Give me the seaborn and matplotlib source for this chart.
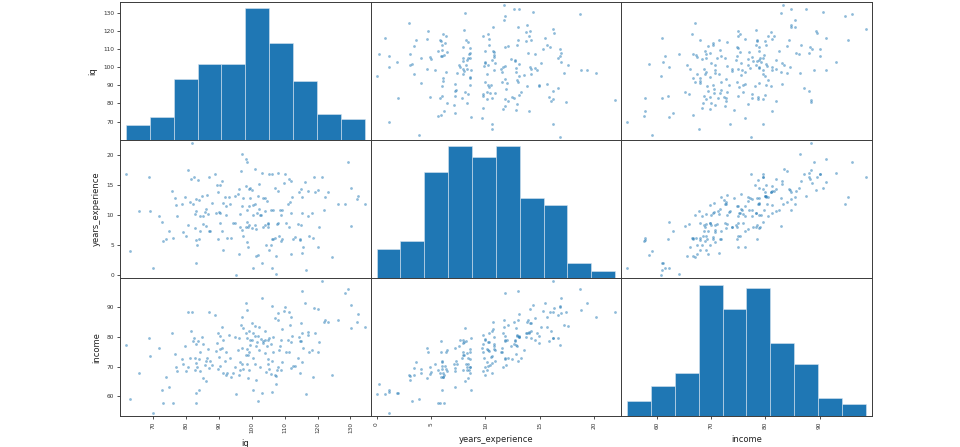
import matplotlib
matplotlib.use("Agg")
import matplotlib.pyplot as plt
import numpy as np
import pandas as pd
import seaborn as sns
from matplotlib.ticker import FixedLocator

iq = [
    61.7, 62.8, 65.8, 68.6, 68.9, 69.8, 71.8, 72.6, 73.0, 73.8,
    74.8, 75.6, 76.0, 76.6, 77.0, 77.3, 78.7, 79.1, 79.7, 80.1,
    80.7, 81.1, 81.9, 81.6, 82.2, 82.5, 83.1, 82.8, 83.3, 82.6,
    83.0, 82.9, 83.6, 84.1, 83.8, 84.3, 83.9, 84.7, 85.1, 85.7,
    86.1, 85.9, 86.9, 86.6, 87.2, 87.0, 88.7, 89.1, 89.8, 90.2,
    90.0, 90.4, 89.7, 91.0, 91.3, 90.8, 91.2, 92.0, 91.8, 92.3,
    92.1, 93.0, 94.2, 93.8, 95.0, 94.8, 95.2, 96.0, 95.8, 96.3,
    96.1, 97.0, 96.8, 97.3, 97.1, 96.9, 97.4, 98.3, 98.5, 98.2,
    98.6, 98.1, 98.4, 98.8, 99.0, 99.3, 99.1, 98.9, 99.2, 100.1,
    100.3, 99.9, 100.2, 101.1, 100.9, 101.3, 101.0, 101.2, 102.1, 101.9,
    102.3, 102.0, 103.1, 102.9, 103.3, 103.0, 104.1, 103.9, 104.3, 105.1,
    104.9, 105.0, 105.2, 106.1, 105.8, 106.3, 106.0, 105.9, 106.2, 107.1,
    106.9, 107.3, 107.2, 108.1, 107.9, 108.3, 108.0, 109.1, 108.9, 109.3,
    109.0, 110.1, 109.8, 111.2, 111.0, 111.4, 112.2, 112.0, 112.4, 111.9,
    113.2, 114.2, 114.0, 115.2, 114.9, 115.4, 115.1, 115.6, 115.3, 114.8,
    116.2, 116.4, 117.2, 117.0, 117.4, 118.2, 119.2, 119.0, 120.2, 120.4,
    120.0, 121.2, 122.2, 122.0, 123.3, 124.3, 126.3, 128.3, 129.3, 130.3,
    130.1, 132.3, 132.1, 134.3,
    80.5, 83.0, 85.0, 86.5, 88.0, 89.5, 90.2, 93.5, 96.5, 98.5,
    99.5, 100.5, 101.5, 102.5, 103.5, 104.0, 104.5, 105.0, 106.5, 107.5,
    108.5, 110.5, 111.5, 112.0, 114.5, 118.5,
]

years_experience = [
    16.8, 3.9, 10.6, 16.2, 10.6, 1.1, 9.7, 8.7, 5.6, 5.9,
    7.2, 14.0, 6.2, 12.8, 11.6, 9.8, 11.8, 7.1, 12.9, 6.5,
    17.4, 12.1, 21.9, 16.0, 11.8, 16.2, 12.6, 7.8, 4.9, 10.1,
    2.0, 5.8, 15.8, 9.8, 12.4, 7.2, 6.0, 13.1, 8.4, 10.4,
    8.1, 10.9, 16.2, 10.1, 7.3, 7.2, 16.7, 10.3, 13.8, 14.9,
    10.5, 10.2, 6.0, 15.6, 12.0, 7.2, 4.1, 11.5, 13.0, 6.1,
    10.0, 12.9, 8.6, 6.1, 13.1, 8.6, 0.0, 14.2, 13.5, 7.9,
    3.4, 20.1, 17.2, 12.8, 11.5, 7.4, 6.4, 19.3, 18.8, 14.7,
    10.8, 8.0, 5.4, 4.6, 14.2, 14.5, 11.4, 7.9, 8.3, 14.1,
    11.6, 7.7, 1.1, 17.6, 11.8, 7.6, 8.2, 3.1, 15.1, 13.1,
    10.9, 3.3, 16.9, 10.0, 12.7, 1.9, 12.7, 8.3, 5.0, 16.7,
    7.9, 8.6, 4.1, 16.8, 10.8, 5.9, 6.0, 4.9, 1.1, 14.5,
    6.2, 3.1, 0.2, 16.9, 13.9, 6.5, 8.6, 10.7, 10.0, 6.0,
    5.6, 16.8, 15.3, 15.9, 11.8, 7.9, 12.9, 10.3, 6.0, 3.4,
    6.3, 13.7, 8.4, 13.0, 14.2, 10.3, 8.2, 4.6, 3.6, 5.8,
    15.5, 0.8, 14.0, 9.8, 6.4, 10.2, 13.7, 16.3, 14.1, 8.0,
    4.7, 16.2, 13.0, 10.7, 13.8, 3.0, 11.7, 11.8, 18.7, 14.4,
    8.1, 13.1, 12.6, 11.7,
    8.3, 10.6, 9.8, 13.3, 11.9, 14.9, 8.6, 11.8, 10.1, 8.7,
    12.8, 9.9, 10.2, 10.0, 7.9, 10.6, 12.3, 8.4, 10.8, 8.5,
    10.8, 8.6, 12.1, 15.6, 5.9, 6.1,
]

income = [
    77.3, 59.1, 67.8, 79.6, 73.4, 54.5, 76.3, 62.2, 57.7, 66.6,
    63.0, 81.3, 57.8, 74.2, 69.7, 68.4, 72.5, 70.8, 76.8, 68.5,
    88.4, 72.8, 88.4, 81.9, 78.7, 79.6, 77.6, 72.8, 69.8, 69.0,
    61.0, 57.8, 78.7, 74.9, 72.4, 68.6, 62.0, 79.9, 66.0, 70.5,
    65.1, 71.7, 88.1, 75.9, 71.9, 69.5, 87.2, 75.2, 81.1, 80.2,
    73.3, 70.3, 69.3, 83.1, 78.8, 76.2, 68.0, 74.8, 71.8, 68.0,
    67.1, 80.5, 68.0, 66.6, 79.9, 69.7, 60.7, 79.5, 75.5, 68.8,
    67.3, 86.4, 84.0, 82.8, 76.3, 70.8, 69.1, 91.2, 88.9, 81.3,
    75.7, 73.8, 70.8, 66.1, 82.0, 78.8, 74.9, 73.8, 68.7, 84.5,
    81.3, 78.8, 62.3, 83.5, 80.3, 76.8, 70.7, 65.5, 83.1, 80.2,
    75.5, 58.6, 93.0, 79.2, 78.4, 61.2, 78.8, 74.5, 68.3, 79.5,
    79.0, 72.6, 69.1, 90.1, 77.6, 74.7, 71.8, 67.4, 61.5, 86.2,
    67.2, 66.7, 64.1, 88.0, 85.7, 75.4, 69.7, 82.5, 78.8, 71.6,
    68.8, 90.0, 88.6, 88.3, 78.9, 74.8, 80.2, 78.2, 70.3, 69.5,
    70.3, 79.9, 73.0, 95.2, 84.4, 81.3, 78.4, 76.3, 71.4, 68.0,
    91.1, 60.9, 81.5, 80.5, 74.9, 75.4, 81.1, 89.6, 89.3, 78.2,
    74.9, 98.5, 85.5, 84.8, 84.8, 67.0, 85.5, 94.7, 95.9, 90.6,
    82.9, 87.5, 84.8, 83.3,
    70.0, 71.2, 77.5, 73.0, 70.5, 78.0, 75.8, 72.7, 71.5, 79.6,
    77.2, 73.0, 78.3, 70.0, 77.8, 82.0, 76.8, 71.0, 79.8, 69.0,
    77.0, 75.0, 84.0, 86.5, 78.5, 66.5,
]

columns = ["iq", "years_experience", "income"]
tick_values = {
    "iq": [70, 80, 90, 100, 110, 120, 130],
    "years_experience": [0, 5, 10, 15, 20],
    "income": [60, 70, 80, 90],
}

df = pd.DataFrame({"iq": iq, "years_experience": years_experience, "income": income})

sns.set_theme(style="ticks")
plt.rcParams["font.family"] = ["DejaVu Sans"]
plt.rcParams.update({
    "axes.edgecolor": "#3a3a3a",
    "axes.linewidth": 0.7,
    "xtick.major.size": 2.2,
    "ytick.major.size": 2.2,
    "xtick.major.width": 0.6,
    "ytick.major.width": 0.6,
    "xtick.color": "#333333",
    "ytick.color": "#333333",
    "xtick.labelsize": 4.2,
    "ytick.labelsize": 4.2,
    "axes.labelsize": 6,
    "axes.labelcolor": "#222222",
    "xtick.major.pad": 2.0,
    "ytick.major.pad": 2.0,
})

color = "#1f77b4"
fig, axes = plt.subplots(3, 3, figsize=(9.6, 4.47), dpi=100)
fig.patch.set_facecolor("white")
fig.subplots_adjust(left=0.125, right=0.908, bottom=0.069, top=0.996,
                    wspace=0, hspace=0)

lims = {}
for c in columns:
    lo, hi = df[c].min(), df[c].max()
    ext = (hi - lo) * 0.05 / 2
    lims[c] = (lo - ext, hi + ext)

n = len(columns)
for i, yc in enumerate(columns):
    for j, xc in enumerate(columns):
        ax = axes[i, j]
        if i == j:
            sns.histplot(data=df, x=xc, bins=10, ax=ax, color=color, alpha=1,
                         edgecolor="#d6e4f0", linewidth=0.4)
        else:
            sns.scatterplot(data=df, x=xc, y=yc, ax=ax, color=color, alpha=0.5,
                            s=4, linewidth=0)
            ax.set_ylim(lims[yc])
            ax.yaxis.set_major_locator(FixedLocator(tick_values[yc]))
        ax.set_xlim(lims[xc])
        ax.xaxis.set_major_locator(FixedLocator(tick_values[xc]))
        ax.set_xlabel(xc)
        ax.set_ylabel(yc)
        for lab in ax.get_xticklabels():
            lab.set_rotation(90)
        if i < n - 1:
            ax.xaxis.set_visible(False)
        if j > 0:
            ax.yaxis.set_visible(False)

# top-left diagonal: show y ticks of the first variable, as pandas does
ax0 = axes[0, 0]
lim1 = lims[columns[0]]
locs = np.array(tick_values[columns[0]], dtype=float)
ylo, yhi = ax0.get_ylim()
adj = (locs - lim1[0]) / (lim1[1] - lim1[0]) * (yhi - ylo) + ylo
ax0.set_ylim(ylo, yhi)
ax0.yaxis.set_major_locator(FixedLocator(adj))
ax0.set_yticklabels([str(int(v)) for v in locs])
ax0.set_ylabel("iq")

fig.savefig("out.png", dpi=100, facecolor="white")
